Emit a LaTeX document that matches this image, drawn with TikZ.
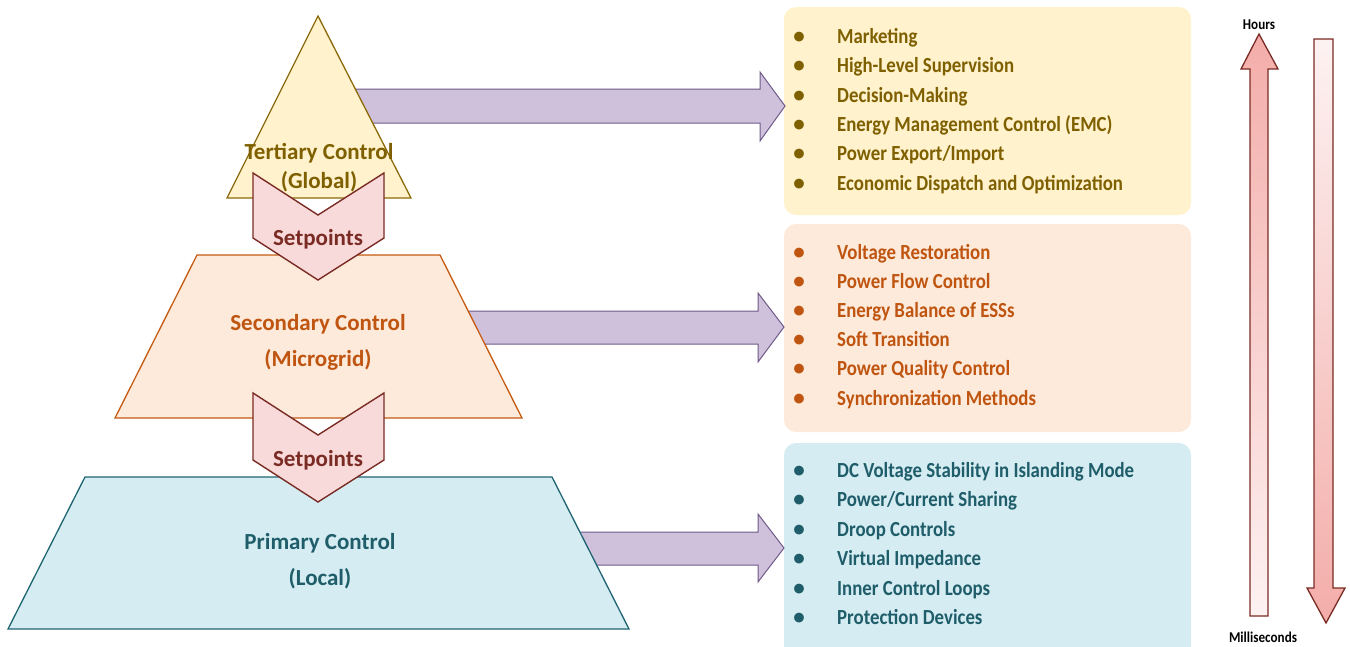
\documentclass[tikz,border=0pt]{standalone}
\usepackage{fontspec}
\setmainfont{Carlito}
\newfontfamily\listfont[FakeStretch=0.875]{Carlito}
\definecolor{tyfill}{HTML}{FFF2CC}
\definecolor{tydraw}{HTML}{8C6A0A}
\definecolor{tytext}{HTML}{7F6000}
\definecolor{sefill}{HTML}{FDEADA}
\definecolor{sedraw}{HTML}{C55A11}
\definecolor{setext}{HTML}{BF5510}
\definecolor{prfill}{HTML}{D5EDF2}
\definecolor{prdraw}{HTML}{1F6472}
\definecolor{prtext}{HTML}{1F5D6A}
\definecolor{chfill}{HTML}{F8DADA}
\definecolor{chdraw}{HTML}{7A2B24}
\definecolor{arfill}{HTML}{CFC1DB}
\definecolor{ardraw}{HTML}{6F5A8A}
\definecolor{tmpink}{HTML}{F3ADA9}
\definecolor{tmwhite}{HTML}{FDF2F2}
\tikzset{
  lbl/.style={font=\bfseries\fontsize{23}{28}\selectfont, anchor=base, inner sep=0pt},
  item/.style={font=\listfont\bfseries\fontsize{21.5}{26}\selectfont, anchor=base west, inner sep=0pt},
  bul/.style={font=\bfseries\fontsize{23}{26}\selectfont, anchor=base, inner sep=0pt},
  flow/.style={fill=arfill, draw=ardraw, line width=1pt, line join=miter},
  chev/.style={fill=chfill, draw=chdraw, line width=1.4pt, line join=miter},
  level/.style={line width=1.3pt, line join=miter},
  boxbg/.style={rounded corners=12pt, draw=none},
  tmarrow/.style={draw=chdraw, line width=1.3pt, line join=miter},
  small/.style={font=\listfont\bfseries\fontsize{15}{18}\selectfont, anchor=base, inner sep=0pt}
}
\begin{document}
\begin{tikzpicture}[x=1pt,y=-1pt]
\useasboundingbox (0,0) rectangle (1350,646);

% right-hand boxes
\fill[boxbg, tyfill] (784,7) rectangle (1191,215);
\fill[boxbg, sefill] (784,224) rectangle (1191,432);
\fill[boxbg, prfill] (784,443) rectangle (1191,660);

% purple flow arrows (behind the shapes)
\coordinate (a1s) at (300,106); \coordinate (a1t) at (785,106);
\coordinate (a2s) at (420,327); \coordinate (a2t) at (784,327);
\coordinate (a3s) at (520,548); \coordinate (a3t) at (784,548);
\draw[flow] (a1s |- 0,89) -- (760,89) -- (760,72) -- (a1t) -- (760,141) -- (760,123) -- (a1s |- 0,123) -- cycle;
\draw[flow] (a2s |- 0,311) -- (758,311) -- (758,293) -- (a2t) -- (758,362) -- (758,344) -- (a2s |- 0,344) -- cycle;
\draw[flow] (a3s |- 0,532) -- (758,532) -- (758,514) -- (a3t) -- (758,582) -- (758,565) -- (a3s |- 0,565) -- cycle;

% pyramid levels
\draw[level, fill=tyfill, draw=tydraw] (227,198) -- (318,16) -- (411,198) -- cycle;
\draw[level, fill=sefill, draw=sedraw] (197,255) -- (440,255) -- (522,418) -- (115,418) -- cycle;
\draw[level, fill=prfill, draw=prdraw] (85,477) -- (552,477) -- (629,629) -- (8,629) -- cycle;

% chevrons
\draw[chev] (253,173) -- (318,215) -- (384,173) -- (384,238) -- (318,280) -- (253,238) -- cycle;
\draw[chev] (253,393) -- (318,435) -- (384,393) -- (384,460) -- (318,502) -- (253,460) -- cycle;

% labels in shapes
\node[lbl, text=tytext] (ter1) at (319,159) {Tertiary Control};
\node[lbl, text=tytext] (ter2) at (319,188) {(Global)};
\node[lbl, text=chdraw] (sp1) at (318,245) {Setpoints};
\node[lbl, text=setext] (sec1) at (318,330) {Secondary Control};
\node[lbl, text=setext] (sec2) at (318,366) {(Microgrid)};
\node[lbl, text=chdraw] (sp2) at (318,466) {Setpoints};
\node[lbl, text=prtext] (pri1) at (320,549) {Primary Control};
\node[lbl, text=prtext] (pri2) at (320,585) {(Local)};

% lists
\foreach \t [count=\i] in {Marketing, High-Level Supervision, Decision-Making, Energy Management Control (EMC), Power Export/Import, Economic Dispatch and Optimization}{
  \node[bul, text=tytext] (tb\i) at (799,{43.3+29.4*(\i-1)}) {•};
  \node[item, text=tytext] (ti\i) at (837,{43.3+29.4*(\i-1)}) {\t};
}
\foreach \t [count=\i] in {Voltage Restoration, Power Flow Control, Energy Balance of ESSs, Soft Transition, Power Quality Control, Synchronization Methods}{
  \node[bul, text=setext] (sb\i) at (799,{259.3+29.15*(\i-1)}) {•};
  \node[item, text=setext] (si\i) at (837,{259.3+29.15*(\i-1)}) {\t};
}
\foreach \t [count=\i] in {DC Voltage Stability in Islanding Mode, Power/Current Sharing, Droop Controls, Virtual Impedance, Inner Control Loops, Protection Devices}{
  \node[bul, text=prtext] (pb\i) at (799,{477.3+29.5*(\i-1)}) {•};
  \node[item, text=prtext] (pi\i) at (837,{477.3+29.5*(\i-1)}) {\t};
}

% time-scale arrows
\draw[tmarrow, top color=tmpink, bottom color=tmwhite] (1250,616) -- (1250,69) -- (1241,69) -- (1259,34) -- (1278,69) -- (1268,69) -- (1268,616) -- cycle;
\draw[tmarrow, top color=tmwhite, bottom color=tmpink] (1314,39) -- (1333,39) -- (1333,588) -- (1345,588) -- (1326,623) -- (1307,588) -- (1314,588) -- cycle;
\node[small] (hours) at (1259,29) {Hours};
\node[small] (ms) at (1263,642) {Milliseconds};
\end{tikzpicture}
\end{document}
